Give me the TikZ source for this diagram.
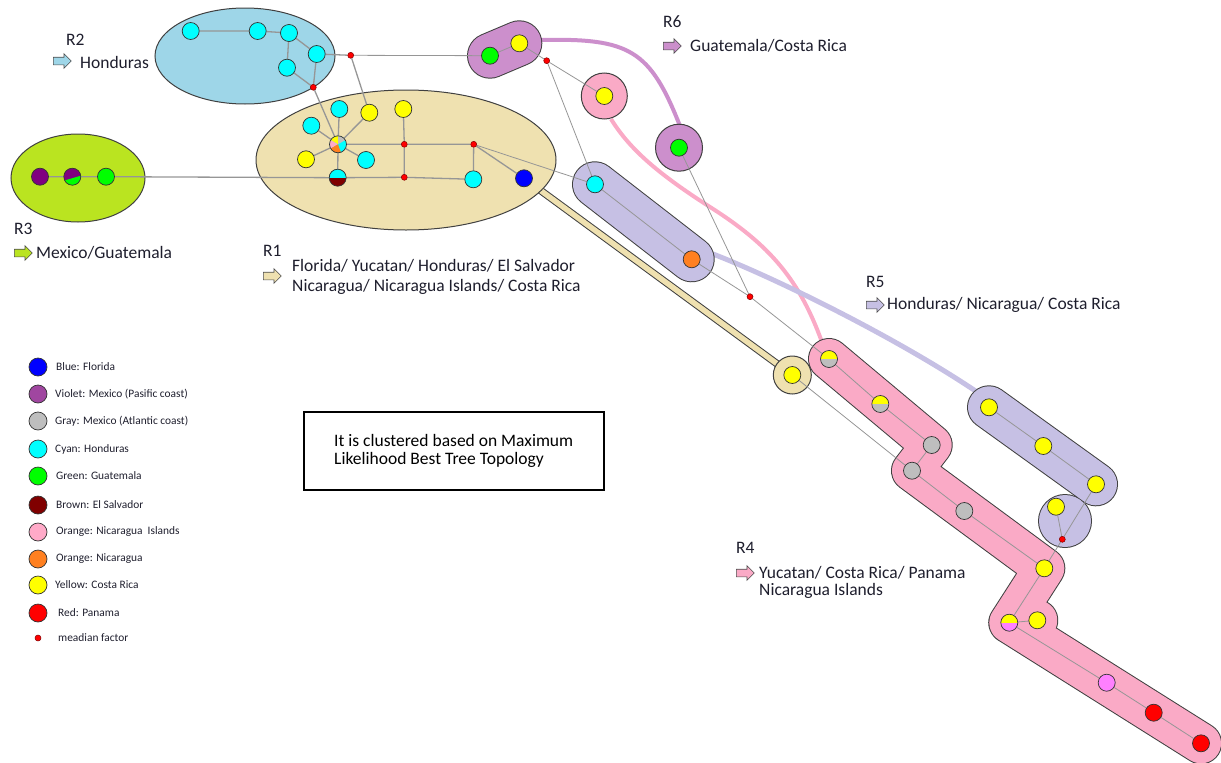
\documentclass[tikz,border=0pt]{standalone}
\usepackage{fontspec}
\setmainfont{Carlito}
\usetikzlibrary{shapes.arrows}
\pgfdeclarelayer{bg}
\pgfdeclarelayer{edges}
\pgfsetlayers{bg,edges,main}
\definecolor{cRtwo}{RGB}{158,214,232}
\definecolor{cRone}{RGB}{239,225,176}
\definecolor{cRthree}{RGB}{186,228,32}
\definecolor{cRsix}{RGB}{204,143,204}
\definecolor{cPink}{RGB}{250,170,198}
\definecolor{cLav}{RGB}{198,192,228}
\definecolor{nCyan}{RGB}{0,255,255}
\definecolor{nYel}{RGB}{255,255,0}
\definecolor{nGreen}{RGB}{0,255,0}
\definecolor{nBlue}{RGB}{0,0,255}
\definecolor{nViol}{RGB}{128,0,128}
\definecolor{nLViol}{RGB}{160,70,160}
\definecolor{nGray}{RGB}{190,190,190}
\definecolor{nBrown}{RGB}{128,0,0}
\definecolor{nPink}{RGB}{255,170,200}
\definecolor{nMag}{RGB}{255,128,255}
\definecolor{nOrange}{RGB}{255,128,32}
\definecolor{nRed}{RGB}{255,0,0}
\definecolor{edgeg}{RGB}{150,150,150}
\definecolor{txt}{RGB}{30,30,45}
\newcommand\mywedge[3]{\fill[#1] (path picture bounding box.center) -- ([shift={(#2:20pt)}]path picture bounding box.center) -- ([shift={({(#2+#3)/2}:20pt)}]path picture bounding box.center) -- ([shift={(#3:20pt)}]path picture bounding box.center) -- cycle;}
\begin{document}
\begin{tikzpicture}[x=1pt,y=-1pt,
  nd/.style={circle, draw=black!80, line width=0.7pt, minimum size=17pt, inner sep=0pt},
  lgd/.style={nd, minimum size=18pt},
  md/.style={circle, draw=black!50!red, fill=nRed, line width=0.5pt, minimum size=6pt, inner sep=0pt},
  half/.style 2 args={nd, fill=#2, path picture={\fill[#1] (path picture bounding box.west) rectangle (path picture bounding box.north east);}},
  pienode/.style={nd, fill=nCyan, path picture={\mywedge{nYel}{90}{150}\mywedge{nGray}{30}{90}\mywedge{nPink}{150}{210}\mywedge{nOrange}{210}{290}}},
  vgnode/.style={nd, fill=nViol, path picture={\fill[nGreen] ([shift={(-12pt,-5pt)}]path picture bounding box.center) -- ([shift={(12pt,2pt)}]path picture bounding box.center) -- ([shift={(12pt,-12pt)}]path picture bounding box.center) -- ([shift={(-12pt,-12pt)}]path picture bounding box.center) -- cycle;}},
  ed/.style={draw=edgeg, line width=1.3pt},
  ted/.style={draw=edgeg, line width=0.8pt},
  lab/.style={font=\fontsize{17.5}{21}\selectfont, text=txt, anchor=west, inner sep=0pt},
  leg/.style={font=\fontsize{11.4}{13}\selectfont, text=txt, anchor=west, inner sep=0pt},
  arr/.style={single arrow, draw=black!70, line width=0.6pt, minimum height=18pt, single arrow head extend=3.5pt, inner sep=3.5pt, anchor=west},
  outl/.style={draw=black!75, line cap=round, line join=round},
  infl/.style={line cap=round, line join=round}
]
\useasboundingbox (0,0) rectangle (1221,763);

% ---------- nodes ----------
% R2
\node[nd, fill=nCyan] (a1) at (190.7,31) {};
\node[nd, fill=nCyan] (a2) at (257.7,31) {};
\node[nd, fill=nCyan] (a3) at (289,33) {};
\node[nd, fill=nCyan] (a4) at (316.7,54) {};
\node[nd, fill=nCyan] (a5) at (287,67.7) {};
\node[md] (m1) at (313.3,87.3) {};
\node[md] (m2) at (350.7,55.3) {};
% R1
\node[nd, fill=nCyan] (b1) at (339.3,109) {};
\node[nd, fill=nYel] (b2) at (369.3,112.7) {};
\node[nd, fill=nYel] (b3) at (403.3,109) {};
\node[nd, fill=nCyan] (b4) at (311.3,125.7) {};
\node[pienode] (pie) at (338,144.3) {};
\node[nd, fill=nYel] (b5) at (306,159.3) {};
\node[nd, fill=nCyan] (b6) at (366,160) {};
\node[half={nCyan}{nBrown}] (hb) at (337.7,177.7) {};
\node[md] (m3) at (404.3,144.3) {};
\node[md] (m4) at (404.3,177.3) {};
\node[md] (m5) at (473.7,144.3) {};
\node[nd, fill=nCyan] (b7) at (473.3,179.3) {};
\node[nd, fill=nBlue] (bb) at (524,178.3) {};
% R3
\node[nd, fill=nViol] (v1) at (40,176.7) {};
\node[vgnode] (hv) at (72.3,176.7) {};
\node[nd, fill=nGreen] (gr) at (106,176.7) {};
% R6
\node[nd, fill=nGreen] (g6) at (490,55.7) {};
\node[nd, fill=nYel] (y6) at (519.3,43.3) {};
\node[md] (m6) at (546.7,60.7) {};
\node[nd, fill=nYel] (py) at (604.3,96) {};
\node[nd, fill=nGreen] (pg) at (679,147.7) {};
% R5 upper
\node[nd, fill=nCyan] (c51) at (595,184.3) {};
\node[nd, fill=nOrange] (o5) at (691.7,259.3) {};
\node[md] (m7) at (750,296.7) {};
\node[nd, fill=nYel] (ty) at (792.3,375) {};
% R4
\node[half={nYel}{nGray}] (r41) at (829,359) {};
\node[half={nYel}{nGray}] (r42) at (880.3,404) {};
\node[nd, fill=nGray] (r43) at (931.7,445) {};
\node[nd, fill=nGray] (r44) at (912,470.7) {};
\node[nd, fill=nGray] (r45) at (964.3,511) {};
\node[nd, fill=nYel] (r46) at (1044.3,568.3) {};
\node[half={nYel}{nMag}] (r47) at (1009.3,622.7) {};
\node[nd, fill=nYel] (r48) at (1037.3,620.3) {};
\node[nd, fill=nMag] (r49) at (1106.7,682.7) {};
\node[nd, fill=nRed] (r410) at (1153.7,712.7) {};
\node[nd, fill=nRed] (r411) at (1201,743.3) {};
% R5 lower
\node[nd, fill=nYel] (s1) at (989,407.3) {};
\node[nd, fill=nYel] (s2) at (1043.3,446) {};
\node[nd, fill=nYel] (s3) at (1096,484.3) {};
\node[nd, fill=nYel] (s4) at (1056,506.7) {};
\node[md] (m8) at (1062.3,539.3) {};

% ---------- edges ----------
\begin{pgfonlayer}{edges}
\draw[ed] (a1)--(a2) (a2)--(a3) (a3)--(a4) (a3)--(a5) (a5)--(m1) (a4)--(m1) (a4)--(m2);
\draw[ed] (m1)--(pie) (m2)--(b2);
\draw[ted] (m2)--(g6);
\draw[ed] (pie)--(b1) (pie)--(b2) (pie)--(b4) (pie)--(b5) (pie)--(b6) (pie)--(hb) (pie)--(m3);
\draw[ed] (m3)--(b3) (m3)--(m4) (m3)--(m5) (m5)--(b7) (m5)--(bb) (hb)--(m4) (m4)--(b7);
\draw[ted] (m5)--(c51);
\draw[ed] (v1)--(hv) (hv)--(gr) (gr)--(hb);
\draw[ted] (g6)--(y6) (y6)--(m6) (m6)--(py) (m6)--(c51) (pg)--(m7);
\draw[ted] (c51)--(o5) (o5)--(m7) (m7)--(r41) (ty)--(r44);
\draw[ted] (r41)--(r42) (r42)--(r43) (r43)--(r44) (r44)--(r45) (r45)--(r46) (r46)--(r47) (r47)--(r48) (r47)--(r49) (r49)--(r410) (r410)--(r411);
\draw[ted] (s1)--(s2) (s2)--(s3) (s3)--(m8) (s4)--(m8) (m8)--(r46);
\end{pgfonlayer}

% ---------- clusters ----------
\begin{pgfonlayer}{bg}
% tan band
\draw[outl, line width=7.5pt] (bb.center)--(ty.center);
\draw[infl, cRone, line width=5.5pt] (bb.center)--(ty.center);
% curved connectors
\coordinate (c6a) at (541,40);
\coordinate (c6b) at (680,126);
\draw[cRsix, line width=4pt] (c6a) .. controls (630,38) and (650,50) .. (c6b);
\coordinate (pk1) at (611,119);
\coordinate (pk2) at (823,345);
\draw[cPink, line width=4pt] (pk1) .. controls (630,150) and (660,175) .. (710,207) .. controls (770,245) and (800,280) .. (pk2);
\coordinate (lv1) at (713,254);
\coordinate (lv2) at (977,392);
\draw[cLav, line width=5pt] (lv1) .. controls (780,280) and (900,340) .. (lv2);
% ellipses
\draw[fill=cRtwo, draw=black!75, line width=1pt] (245,56) ellipse[x radius=90pt, y radius=48pt];
\draw[fill=cRone, draw=black!75, line width=1pt] (406,160) ellipse[x radius=150pt, y radius=70pt];
\draw[fill=cRthree, draw=black!75, line width=1pt] (78,178) ellipse[x radius=67pt, y radius=44pt];
% R6
\draw[outl, line width=46pt] (g6.center)--(y6.center);
\draw[infl, cRsix, line width=44pt] (g6.center)--(y6.center);
\draw[fill=cPink, draw=black!75, line width=1pt] (py.center) circle[radius=23pt];
\draw[fill=cRsix, draw=black!75, line width=1pt] (pg.center) circle[radius=23.5pt];
% tan ring
\draw[fill=cRone, draw=black!75, line width=1pt] (ty.center) circle[radius=19pt];
% R5 upper band
\draw[outl, line width=46pt] (c51.center)--(o5.center);
\draw[infl, cLav, line width=44pt] (c51.center)--(o5.center);
% R5 lower
\draw[outl, line width=44pt] (s1.center)--(s3.center);
\fill[black!75] (1065,521) circle[radius=27pt];
\draw[infl, cLav, line width=42pt] (s1.center)--(s3.center);
\fill[cLav] (1065,521) circle[radius=26pt];
% R4 band
\draw[outl, line width=42pt] (r41.center)--(r43.center)--(r44.center)--(r46.center)--(r47.center)--(r48.center) (r47.center)--(r411.center);
\draw[infl, cPink, line width=40pt] (r41.center)--(r43.center)--(r44.center)--(r46.center)--(r47.center)--(r48.center) (r47.center)--(r411.center);
\end{pgfonlayer}

% ---------- region labels ----------
\node[lab] (t2) at (66,40) {R2};
\node[arr, fill=cRtwo] (ar2) at (53,61) {};
\node[lab] (t2b) at (80,62) {Honduras};
\node[lab] (t6) at (663,22) {R6};
\node[arr, fill=cRsix] (ar6) at (663,46) {};
\node[lab] (t6b) at (690,46) {Guatemala/Costa Rica};
\node[lab] (t3) at (14,229) {R3};
\node[arr, fill=cRthree] (ar3) at (14,253) {};
\node[lab] (t3b) at (36,253) {Mexico/Guatemala};
\node[lab] (t1) at (263,251) {R1};
\node[arr, fill=cRone] (ar1) at (263,276) {};
\node[lab] (t1b) at (292,266) {Florida/ Yucatan/ Honduras/ El Salvador};
\node[lab] (t1c) at (292,287) {Nicaragua/ Nicaragua Islands/ Costa Rica};
\node[lab] (t5) at (866,282) {R5};
\node[arr, fill=cLav] (ar5) at (866,305) {};
\node[lab] (t5b) at (887,305) {Honduras/ Nicaragua/ Costa Rica};
\node[lab] (t4) at (736,548) {R4};
\node[arr, fill=cPink] (ar4) at (736,573) {};
\node[lab] (t4b) at (759,573) {Yucatan/ Costa Rica/ Panama};
\node[lab] (t4c) at (759,591) {Nicaragua Islands};

% ---------- box ----------
\node[draw=black, line width=2pt, minimum width=300pt, minimum height=78pt, inner sep=0pt] (box) at (454,451) {};
\node[lab, text=black] (bx1) at (334,440) {It is clustered based on Maximum};
\node[lab, text=black] (bx2) at (334,460) {Likelihood Best Tree Topology};

% ---------- legend ----------
\node[lgd, fill=nBlue] (lg1) at (38,367) {};
\node[leg] (lt1) at (56,367) {Blue: Florida};
\node[lgd, fill=nLViol] (lg2) at (38,394) {};
\node[leg] (lt2) at (55,394) {Violet: Mexico (Pasific coast)};
\node[lgd, fill=nGray] (lg3) at (38,421) {};
\node[leg] (lt3) at (55,421) {Gray: Mexico (Atlantic coast)};
\node[lgd, fill=nCyan] (lg4) at (38,449) {};
\node[leg] (lt4) at (55,449) {Cyan: Honduras};
\node[lgd, fill=nGreen] (lg5) at (38,476) {};
\node[leg] (lt5) at (56,476) {Green: Guatemala};
\node[lgd, fill=nBrown] (lg6) at (38,505) {};
\node[leg] (lt6) at (56,505) {Brown: El Salvador};
\node[lgd, fill=nPink] (lg7) at (38,532) {};
\node[leg] (lt7) at (56,532) {Orange: Nicaragua\ \ Islands};
\node[lgd, fill=nOrange] (lg8) at (38,559) {};
\node[leg] (lt8) at (56,559) {Orange: Nicaragua};
\node[lgd, fill=nYel] (lg9) at (38,585) {};
\node[leg] (lt9) at (55,585) {Yellow: Costa Rica};
\node[lgd, fill=nRed] (lg10) at (38,613) {};
\node[leg] (lt10) at (58,613) {Red: Panama};
\node[md] (lg11) at (38,638) {};
\node[leg] (lt11) at (58,638) {meadian factor};
\end{tikzpicture}
\end{document}
